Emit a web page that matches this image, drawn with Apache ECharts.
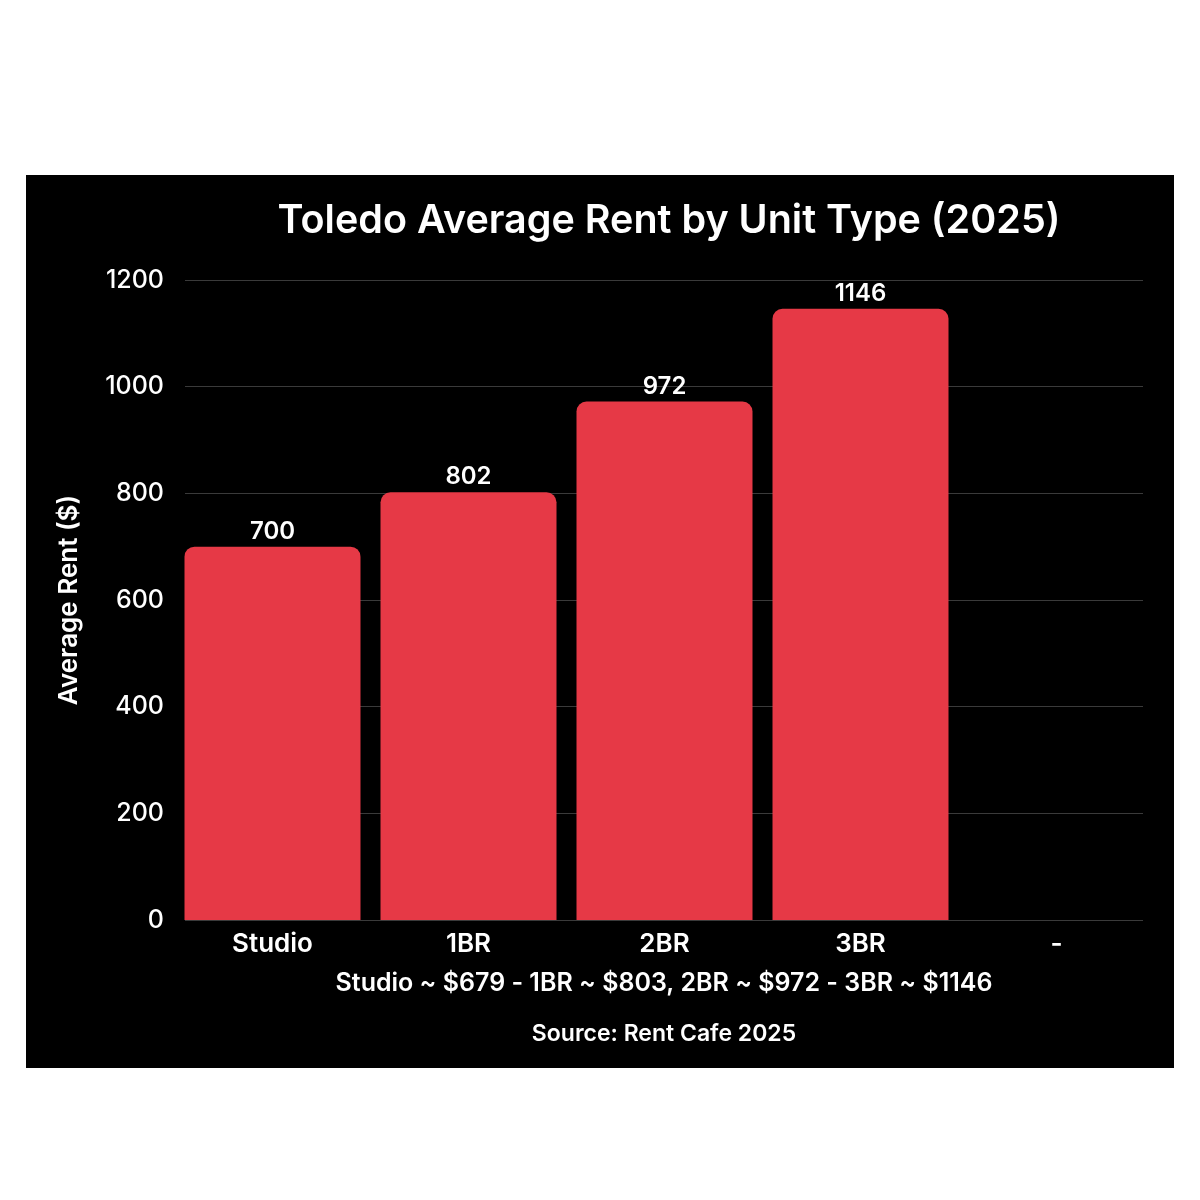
<!DOCTYPE html>
<html>
<head>
<meta charset="utf-8">
<script src="https://cdn.jsdelivr.net/npm/echarts@6/dist/echarts.min.js"></script>
<style>
html,body{margin:0;padding:0;background:#fff;}
#bg{position:absolute;left:26px;top:175px;width:1148px;height:893px;background:#000;}
#chart{position:absolute;left:0;top:0;width:1200px;height:1200px;}
</style>
</head>
<body>
<div id="bg"></div>
<div id="chart"></div>
<script>
const categories = ['Studio', '1BR', '2BR', '3BR', '-'];
const rentValues = [700, 802, 972, 1146, null];
const yTicks = { min: 0, max: 1200, interval: 200 };
const titleText = 'Toledo Average Rent by Unit Type (2025)';
const yAxisName = 'Average Rent ($)';
const noteText = 'Studio ~ $679 - 1BR ~ $803, 2BR ~ $972 - 3BR ~ $1146';
const sourceText = 'Source: Rent Cafe 2025';

const FONT = 'Inter, "Noto Sans", sans-serif';
const chart = echarts.init(document.getElementById('chart'));
chart.setOption({
  backgroundColor: 'transparent',
  animation: false,
  title: {
    text: titleText,
    left: 664,
    top: 196,
    textAlign: 'center',
    textStyle: { color: '#fff', fontFamily: FONT, fontSize: 39.5, fontWeight: 600 }
  },
  grid: [
    { left: 185, right: 57, top: 280, bottom: 280 },
    { left: 174.5, right: 45.5, top: 280, bottom: 280 }
  ],
  xAxis: [
    { gridIndex: 0, type: 'category', data: categories, show: false },
    {
      gridIndex: 1, type: 'category', data: categories,
      axisLine: { show: false }, axisTick: { show: false },
      axisLabel: { color: '#fff', fontFamily: FONT, fontSize: 26, fontWeight: 600, margin: 11 }
    }
  ],
  yAxis: [
    {
      gridIndex: 0, type: 'value', min: yTicks.min, max: yTicks.max, interval: yTicks.interval,
      name: yAxisName, nameLocation: 'middle', nameGap: 103,
      nameTextStyle: { color: '#fff', fontFamily: FONT, fontSize: 26, fontWeight: 600 },
      axisLine: { show: false }, axisTick: { show: false },
      axisLabel: { color: '#fff', fontFamily: FONT, fontSize: 25, fontWeight: 500, margin: 21,
        formatter: v => String(v) },
      splitLine: { show: true, lineStyle: { color: '#3a3a3a', width: 1 } }
    },
    {
      gridIndex: 1, type: 'value', min: yTicks.min, max: yTicks.max, interval: yTicks.interval,
      show: false, splitLine: { show: false }
    }
  ],
  series: [{
    type: 'bar',
    xAxisIndex: 1, yAxisIndex: 1,
    data: rentValues,
    barWidth: 176,
    itemStyle: { color: '#E63946', borderRadius: [10, 10, 0, 0] },
    label: {
      show: true, position: 'top', distance: 3,
      color: '#fff', fontFamily: FONT, fontSize: 24, fontWeight: 600
    }
  }],
  graphic: [
    {
      type: 'text', x: 664, y: 983,
      style: { text: noteText, fill: '#fff', font: '600 25px ' + FONT, align: 'center', verticalAlign: 'middle' }
    },
    {
      type: 'text', x: 664, y: 1034,
      style: { text: sourceText, fill: '#fff', font: '600 23px ' + FONT, align: 'center', verticalAlign: 'middle' }
    }
  ]
});
</script>
</body>
</html>
